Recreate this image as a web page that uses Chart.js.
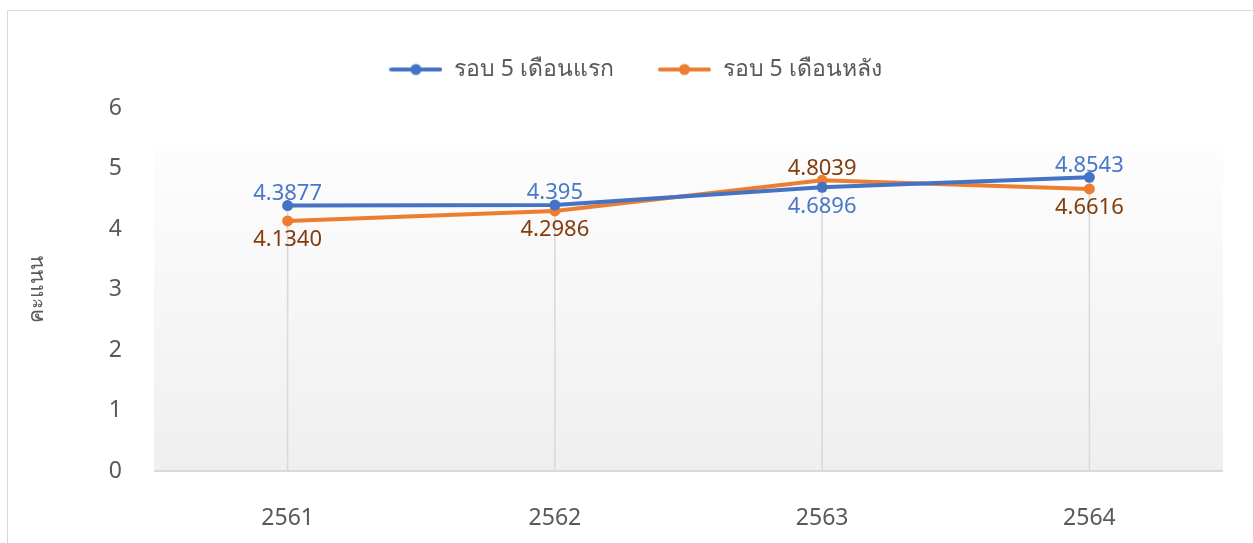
<!DOCTYPE html>
<html><head><meta charset="utf-8">
<script src="https://cdn.jsdelivr.net/npm/chart.js@4.4.1/dist/chart.umd.min.js"></script>
<style>
html,body{margin:0;padding:0;background:#fff;overflow:hidden;width:1253px;height:543px}
#frame{position:absolute;left:7px;top:10px;width:1300px;height:600px;border:1px solid #d9d9d9;box-sizing:border-box}
#wrap{position:absolute;left:0;top:0;width:1253px;height:543px}
</style></head><body>
<div id="frame"></div>
<div id="wrap"><canvas id="c" width="1253" height="543"></canvas></div>
<script>
const years = ['2561', '2562', '2563', '2564'];
const firstRound = [4.3877, 4.395, 4.6896, 4.8543];
const secondRound = [4.1340, 4.2986, 4.8039, 4.6616];
const seriesNames = ['รอบ 5 เดือนแรก', 'รอบ 5 เดือนหลัง'];
const yTickValues = [0, 1, 2, 3, 4, 5, 6];
const yTitle = 'คะแนน';

const FONT = "'Noto Sans', 'Open Sans', 'DejaVu Sans', sans-serif";
const BLUE = '#4472C4', ORANGE = '#ED7D31';
const BLUE_LABEL = '#4a78c9', ORANGE_LABEL = '#843C0C';
const GRAY_TEXT = '#595959';

function legendIcon(color) {
  const cv = document.createElement('canvas');
  cv.width = 53; cv.height = 14;
  const g = cv.getContext('2d');
  g.strokeStyle = color; g.lineWidth = 4; g.lineCap = 'round';
  g.beginPath(); g.moveTo(2, 7); g.lineTo(51, 7); g.stroke();
  g.fillStyle = color; g.beginPath(); g.arc(26.5, 7, 5.5, 0, Math.PI * 2); g.fill();
  return cv;
}

const bgPlugin = {
  id: 'bgGrad',
  beforeDatasetsDraw(chart) {
    const {ctx, chartArea: a, scales} = chart;
    const top = a.top + (a.bottom - a.top) * 0.116;
    const grad = ctx.createLinearGradient(0, top, 0, a.bottom);
    grad.addColorStop(0, '#fdfdfd');
    grad.addColorStop(1, '#efefef');
    ctx.save();
    ctx.fillStyle = grad;
    ctx.fillRect(a.left, top, a.right - a.left, a.bottom - top);
    const y0 = scales.y.getPixelForValue(0);
    ctx.strokeStyle = '#d9d9d9'; ctx.lineWidth = 1.5;
    years.forEach((yr, i) => {
      const x = scales.x.getPixelForValue(i);
      const yTop = scales.y.getPixelForValue(Math.max(firstRound[i], secondRound[i]));
      ctx.beginPath(); ctx.moveTo(x, yTop); ctx.lineTo(x, y0); ctx.stroke();
    });
    ctx.strokeStyle = '#d9d9d9'; ctx.lineWidth = 2;
    ctx.beginPath(); ctx.moveTo(a.left, y0); ctx.lineTo(a.right, y0); ctx.stroke();
    ctx.restore();
  }
};

const labelPlugin = {
  id: 'valueLabels',
  afterDatasetsDraw(chart) {
    const {ctx} = chart;
    ctx.save();
    ctx.font = "22px " + FONT;
    ctx.textAlign = 'center';
    chart.data.datasets.forEach((ds, di) => {
      const meta = chart.getDatasetMeta(di);
      const other = chart.data.datasets[1 - di].data;
      meta.data.forEach((pt, i) => {
        const v = ds.data[i];
        const above = v >= other[i];
        const txt = ds.labelFormat(v);
        ctx.fillStyle = ds.labelColor;
        if (above) { ctx.textBaseline = 'bottom'; ctx.fillText(txt, pt.x, pt.y - 1); }
        else { ctx.textBaseline = 'top'; ctx.fillText(txt, pt.x, pt.y + 8); }
      });
    });
    ctx.restore();
  }
};

const legendSizePlugin = {
  id: 'legendSize',
  afterInit(chart) {
    const lg = chart.legend;
    if (!lg) return;
    const orig = lg.fit.bind(lg);
    lg.fit = function () { orig(); this.height = 94; };
  },
  afterLayout(chart) {
    const lg = chart.legend;
    if (lg) { lg.left += 24; lg.right += 24; }
  }
};

new Chart(document.getElementById('c'), {
  type: 'line',
  data: {
    labels: years,
    datasets: [
      { label: seriesNames[0], data: firstRound, borderColor: BLUE, backgroundColor: BLUE,
        borderWidth: 4, pointRadius: 5.5, pointBackgroundColor: BLUE, pointBorderWidth: 0,
        tension: 0, labelColor: BLUE_LABEL, labelFormat: v => String(v), icon: legendIcon(BLUE) },
      { label: seriesNames[1], data: secondRound, borderColor: ORANGE, backgroundColor: ORANGE,
        borderWidth: 4, pointRadius: 5.5, pointBackgroundColor: ORANGE, pointBorderWidth: 0,
        tension: 0, labelColor: ORANGE_LABEL, labelFormat: v => v.toFixed(4), icon: legendIcon(ORANGE) }
    ]
  },
  options: {
    responsive: false,
    animation: false,
    layout: { padding: { left: 0, right: 30, top: 14, bottom: 0 } },
    plugins: {
      tooltip: { enabled: false },
      legend: {
        position: 'top',
        labels: {
          usePointStyle: true,
          pointStyleWidth: 53,
          padding: 44,
          color: GRAY_TEXT,
          font: { family: FONT, size: 23 },
          generateLabels(chart) {
            return chart.data.datasets.map((ds, i) => ({
              text: ds.label, pointStyle: ds.icon, fillStyle: ds.borderColor,
              strokeStyle: ds.borderColor, lineWidth: 0, hidden: false, datasetIndex: i,
              fontColor: GRAY_TEXT
            }));
          }
        }
      }
    },
    scales: {
      x: {
        offset: true,
        grid: { display: false, drawTicks: false },
        border: { display: false },
        ticks: { color: GRAY_TEXT, font: { family: FONT, size: 23 }, padding: 34 },
        afterFit(s) { s.height = 72; }
      },
      y: {
        min: 0, max: 6,
        afterBuildTicks(s) { s.ticks = yTickValues.map(v => ({ value: v })); },
        grid: { display: false, drawTicks: false },
        border: { display: false },
        ticks: { color: GRAY_TEXT, font: { family: FONT, size: 23 }, padding: 32 },
        title: { display: true, text: yTitle, color: GRAY_TEXT, font: { family: FONT, size: 21 }, padding: { top: 24, bottom: 0 } },
        afterFit(s) { s.width = 154; }
      }
    }
  },
  plugins: [bgPlugin, labelPlugin, legendSizePlugin]
});
</script>
</body></html>
